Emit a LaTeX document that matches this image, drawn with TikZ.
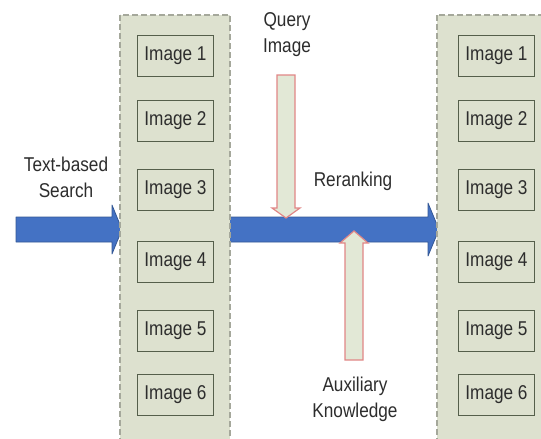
\documentclass[tikz,border=0pt]{standalone}
\usepackage{fontspec}
\setmainfont{Liberation Sans}
\definecolor{panelfill}{RGB}{221,225,207}
\definecolor{paneledge}{RGB}{165,168,155}
\definecolor{boxedge}{RGB}{85,95,75}
\definecolor{arrblue}{RGB}{68,114,196}
\definecolor{arrblueedge}{RGB}{52,88,150}
\definecolor{pinkedge}{RGB}{225,135,135}
\definecolor{pinkfill}{RGB}{226,232,214}
\definecolor{txt}{RGB}{45,45,45}
\newcommand{\sq}[1]{\scalebox{0.86}[1]{#1}}
\tikzset{
  panel/.style={fill=panelfill, draw=paneledge, line width=1.3pt, dash pattern=on 6pt off 3pt},
  imgbox/.style={draw=boxedge, fill=panelfill, line width=1.3pt, minimum width=76pt, minimum height=41pt, inner sep=0pt, font=\fontsize{20}{24}\selectfont, text=txt},
  label/.style={align=center, inner sep=0pt, font=\fontsize{20}{26}\selectfont, text=txt},
  bluearrow/.style={fill=arrblue, draw=arrblueedge, line width=0.8pt, line join=round},
  hollowarrow/.style={fill=pinkfill, draw=pinkedge, line width=1.2pt, line join=miter}
}
\begin{document}
\begin{tikzpicture}[x=1pt,y=-1pt]
\clip (0,0) rectangle (541,439);
\fill[white] (0,0) rectangle (541,439);
% blue arrows
\draw[bluearrow] (16,217) -- (112,217) -- (112,205) -- (122,229.5) -- (112,254) -- (112,242) -- (16,242) -- cycle;
\draw[bluearrow] (225,217) -- (428,217) -- (428,203) -- (439,229.5) -- (428,256) -- (428,242) -- (225,242) -- cycle;
% panels
\draw[panel] (120,15) rectangle (230,445);
\draw[panel] (437,15) rectangle (560,445);
% image boxes
\foreach \i/\y in {1/56,2/121,3/190,4/262,5/331,6/395}{
  \node[imgbox] (L\i) at (175.5,\y) {\sq{Image \i}};
  \node[imgbox] (R\i) at (496.5,\y) {\sq{Image \i}};
}
% query and auxiliary arrows
\draw[hollowarrow] (277,75) -- (295,75) -- (295,208) -- (300,208) -- (286,218) -- (272,208) -- (277,208) -- cycle;
\draw[hollowarrow] (345,360) -- (363,360) -- (363,243) -- (368,243) -- (354,231) -- (340,243) -- (345,243) -- cycle;
% labels
\node[label] (tbs) at (66,177) {\sq{Text-based}\\\sq{Search}};
\node[label] (qi) at (287,35) {\sq{Query}\\\sq{Image}};
\node[label] (rr) at (353,181) {\sq{Reranking}};
\node[label] (ak) at (355,399) {\sq{Auxiliary}\\\sq{Knowledge}};
\end{tikzpicture}
\end{document}
